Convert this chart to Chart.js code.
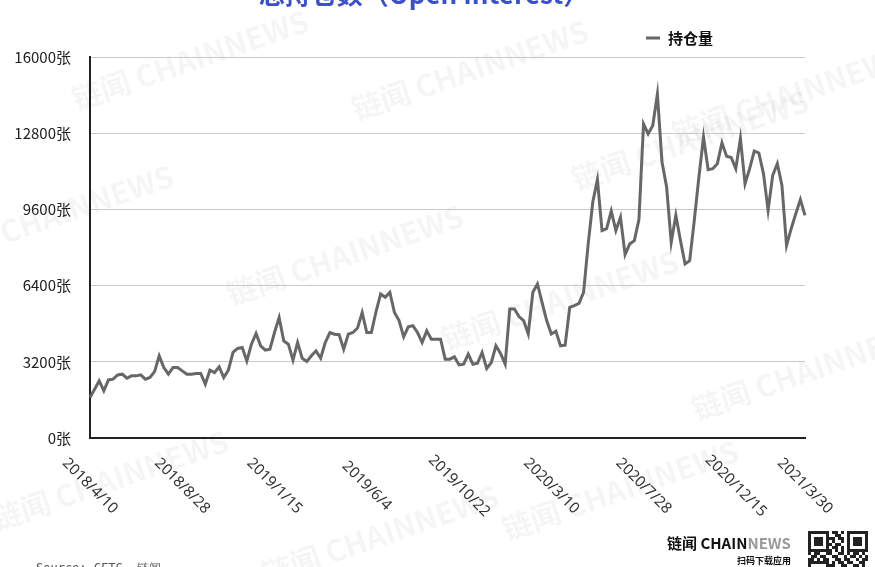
<!DOCTYPE html>
<html>
<head>
<meta charset="utf-8">
<script src="https://cdn.jsdelivr.net/npm/chart.js@4.4.1/dist/chart.umd.min.js"></script>
<style>
  body { margin: 0; background: #fff; }
  #wrap { width: 875px; height: 567px; position: relative; }
</style>
</head>
<body>
<div id="wrap"><canvas id="oiChart"></canvas></div>
<script>
// weekly open interest, 2018/4/10 .. 2021/3/30
var startDate = [2018, 4, 10];
var weeks = 156;

var openInterest = [
  1700, 2050, 2400, 1980, 2440, 2470, 2650, 2680, 2510, 2610,
  2610, 2650, 2470, 2540, 2790, 3450, 2960, 2680, 2960, 2960,
  2820, 2680, 2680, 2710, 2710, 2260, 2850, 2750, 2990, 2540,
  2850, 3600, 3760, 3800, 3240, 3940, 4390, 3870, 3690, 3730,
  4430, 5060, 4080, 3940, 3270, 4010, 3350, 3210, 3450, 3660,
  3350, 4010, 4430, 4360, 4340, 3730, 4360, 4430, 4620, 5270,
  4430, 4430, 5300, 6050, 5910, 6120, 5270, 4930, 4250, 4670,
  4720, 4430, 4010, 4500, 4150, 4150, 4150, 3310, 3310, 3410,
  3070, 3100, 3520, 3100, 3140, 3590, 2920, 3170, 3870, 3550,
  3100, 5420, 5420, 5100, 4930, 4370, 6120, 6470, 5700, 4930,
  4370, 4480, 3870, 3900, 5490, 5560, 5650, 6120, 8150, 9910,
  10850, 8710, 8790, 9530, 8710, 9270, 7700, 8150, 8290, 9170,
  13190, 12770, 13120, 14440, 11590, 10540, 8220, 9350, 8290, 7310,
  7450, 9140, 10960, 12640, 11270, 11310, 11520, 12400, 11830, 11780,
  11310, 12580, 10680, 11310, 12050, 11970, 11100, 9560, 11030, 11520,
  10610, 8080, 8790, 9420, 10010, 9350
];

var tickLabels = ['2018/4/10', '2018/8/28', '2019/1/15', '2019/6/4', '2019/10/22',
  '2020/3/10', '2020/7/28', '2020/12/15', '2021/3/30'];

var yTicks = [0, 3200, 6400, 9600, 12800, 16000];

var dates = [];
for (var i = 0; i < weeks; i++) {
  var d = new Date(Date.UTC(startDate[0], startDate[1] - 1, startDate[2] + 7 * i));
  dates.push(d.getUTCFullYear() + '/' + (d.getUTCMonth() + 1) + '/' + d.getUTCDate());
}

var cjk = '"Noto Sans CJK SC", "Noto Sans", sans-serif';

var marks = [
  [190, 60], [470, 70], [790, 95], [55, 215], [345, 255],
  [560, 300], [690, 140], [810, 370], [110, 480], [380, 535], [620, 490]
];

// decorative pattern for the corner code
var qrBits = [
  '00000000110100000000',
  '00000000011000000000',
  '00000001101100000000',
  '00000000100100000000',
  '00000001011000000000',
  '00000000110100000000',
  '00000001010100000000',
  '10110011001101011010',
  '01101100110010110101',
  '11010110011011001011',
  '00000000101101100110',
  '00000001100110011010',
  '00000000110011010101'
];

var decor = {
  id: 'decor',
  beforeDraw: function(chart) {
    var ctx = chart.ctx;
    ctx.save();
    ctx.fillStyle = '#fff';
    ctx.fillRect(0, 0, chart.width, chart.height);
    ctx.font = 'bold 30px ' + cjk;
    ctx.fillStyle = 'rgba(0,0,0,0.04)';
    ctx.textAlign = 'center';
    ctx.textBaseline = 'middle';
    marks.forEach(function(m) {
      ctx.save();
      ctx.translate(m[0], m[1]);
      ctx.rotate(-0.33);
      ctx.fillText('链闻 CHAINNEWS', 0, 0);
      ctx.restore();
    });
    ctx.restore();
  },
  afterDraw: function(chart) {
    var ctx = chart.ctx;
    var x = chart.scales.x;
    ctx.save();

    // title (cut at the top)
    ctx.fillStyle = '#3b50cc';
    ctx.font = 'bold 26px ' + cjk;
    ctx.textAlign = 'center';
    ctx.textBaseline = 'alphabetic';
    ctx.fillText('总持仓数（Open Interest）', 424, 4);

    // legend
    ctx.strokeStyle = '#676767';
    ctx.lineWidth = 3;
    ctx.beginPath();
    ctx.moveTo(646, 38);
    ctx.lineTo(660, 38);
    ctx.stroke();
    ctx.fillStyle = '#111';
    ctx.font = 'bold 15px ' + cjk;
    ctx.textAlign = 'left';
    ctx.textBaseline = 'middle';
    ctx.fillText(chart.data.datasets[0].label, 668, 38);

    // rotated date labels
    ctx.font = '15px "Noto Sans", sans-serif';
    ctx.fillStyle = '#333';
    ctx.textAlign = 'center';
    tickLabels.forEach(function(t) {
      var idx = dates.indexOf(t);
      if (idx < 0) return;
      ctx.save();
      ctx.translate(x.getPixelForValue(idx), x.top + 48);
      ctx.rotate(Math.PI / 4);
      ctx.fillText(t, 0, 0);
      ctx.restore();
    });

    // footer
    ctx.fillStyle = '#555';
    ctx.font = '12px "DejaVu Sans Mono", monospace';
    ctx.textAlign = 'left';
    ctx.textBaseline = 'alphabetic';
    ctx.fillText('Source: CFTC, 链闻', 36, 572);

    ctx.font = 'bold 15px ' + cjk;
    ctx.textBaseline = 'middle';
    ctx.fillStyle = '#111';
    ctx.fillText('链闻 CHAIN', 667, 543);
    var w = ctx.measureText('链闻 CHAIN').width;
    ctx.fillStyle = '#9a9a9a';
    ctx.fillText('NEWS', 667 + w, 543);
    ctx.fillStyle = '#111';
    ctx.font = 'bold 9px ' + cjk;
    ctx.textAlign = 'right';
    ctx.fillText('扫码下载应用', 791, 561);

    // corner code block
    var qx = 808, qy = 531, cell = 3;
    ctx.fillStyle = '#222';
    qrBits.forEach(function(row, r) {
      for (var c = 0; c < row.length; c++) {
        if (row[c] === '1') ctx.fillRect(qx + c * cell, qy + r * cell, cell, cell);
      }
    });
    [[qx, qy], [qx + 39, qy], [qx, qy + 30]].forEach(function(p) {
      ctx.fillStyle = '#222';
      ctx.fillRect(p[0], p[1], 21, 21);
      ctx.fillStyle = '#fff';
      ctx.fillRect(p[0] + 3, p[1] + 3, 15, 15);
      ctx.fillStyle = '#222';
      ctx.fillRect(p[0] + 6, p[1] + 6, 9, 9);
    });
    ctx.restore();
  }
};

var ctx = document.getElementById('oiChart').getContext('2d');
var oiChart = new Chart(ctx, {
  type: 'line',
  data: {
    labels: dates,
    datasets: [{
      label: '持仓量',
      data: openInterest,
      borderColor: '#676767',
      borderWidth: 3,
      pointRadius: 0,
      tension: 0,
      fill: false
    }]
  },
  options: {
    responsive: true,
    maintainAspectRatio: false,
    animation: false,
    layout: {
      padding: { left: 0, right: 70, top: 57, bottom: 0 }
    },
    plugins: {
      legend: { display: false },
      tooltip: { enabled: false }
    },
    scales: {
      x: {
        offset: false,
        grid: { display: false },
        border: { display: true, color: '#222', width: 2 },
        ticks: { display: false },
        afterFit: function(scale) { scale.height = 129; }
      },
      y: {
        min: 0,
        max: 16000,
        afterBuildTicks: function(scale) {
          scale.ticks = yTicks.map(function(v) { return { value: v }; });
        },
        grid: { color: '#c9c9c9', lineWidth: 1, drawTicks: false },
        border: { display: true, color: '#222', width: 2 },
        ticks: {
          padding: 19,
          color: '#222',
          font: { size: 15, family: cjk },
          callback: function(v) { return v + '张'; }
        },
        afterFit: function(scale) { scale.width = 90; }
      }
    }
  },
  plugins: [decor]
});
</script>
</body>
</html>
